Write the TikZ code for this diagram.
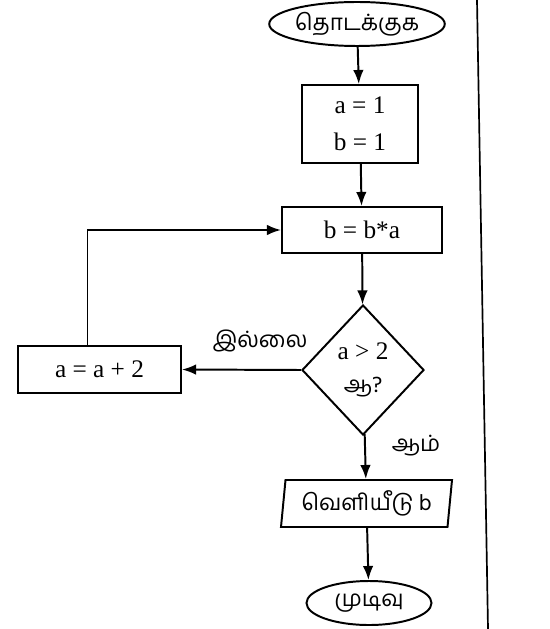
\documentclass[tikz,border=0pt]{standalone}
\usepackage{fontspec}
\newfontfamily\tamilfont[Script=Tamil]{Hind Madurai}
\newfontfamily\boxfont{Liberation Serif}
\usetikzlibrary{arrows.meta}
\usetikzlibrary{shapes.geometric, math}

\tikzset{
 flowline/.style={line width=1.4pt, -{Latex[length=10pt,width=7.5pt]}},
 terminal/.style={ellipse, draw, line width=1.4pt, inner sep=0pt, font=\tamilfont\fontsize{16}{19}\selectfont},
 procbox/.style={rectangle, draw, line width=1.4pt, inner sep=0pt, align=center, font=\boxfont\fontsize{18}{26}\selectfont},
 decision/.style={diamond, draw, line width=1.4pt, inner sep=0pt, align=center, font=\boxfont\fontsize{18}{24}\selectfont},
 iobox/.style={trapezium, trapezium left angle=80, trapezium right angle=100, trapezium stretches body,
   draw, line width=1.4pt, inner sep=0pt, font=\tamilfont\fontsize{16}{19}\selectfont},
 lbl/.style={font=\tamilfont\fontsize{16}{19}\selectfont},
}

\begin{document}
\begin{tikzpicture}[x=0.025cm,y=-0.025cm]

\tikzmath{
\u = 0.025;
}
\useasboundingbox (0,0) rectangle (549,629);

%nodes
\node[terminal, minimum width=125*\u cm, minimum height=44*\u cm] (start) at (357,24) {தொடக்குக};
\node[procbox, minimum width=116*\u cm, minimum height=78*\u cm] (init) at (360,124) {a = 1\\b = 1};
\node[procbox, minimum width=160*\u cm, minimum height=46*\u cm] (calc) at (362,230) {b = b*a};
\node[decision, minimum width=122*\u cm, minimum height=130*\u cm] (test) at (363,370) {a > 2\\{\tamilfont\fontsize{16}{19}\selectfont ஆ?}};
\node[procbox, minimum width=163*\u cm, minimum height=47*\u cm] (inc) at (99.5,369.5) {a = a + 2};
\node[iobox, minimum width=171*\u cm, minimum height=47*\u cm] (out) at (366.5,503.5) {வெளியீடு b};
\node[terminal, minimum width=125*\u cm, minimum height=44*\u cm] (stop) at (369,603) {முடிவு};

%labels
\node[lbl] (nolbl) at (260,341) {இல்லை};
\node[lbl] (yeslbl) at (416,446) {ஆம்};

%arrows
\draw[flowline] (start) -- (init);
\draw[flowline] (init) -- (calc);
\draw[flowline] (calc) -- (test);
\draw[flowline] (test.west) -- (inc.east);
\draw[flowline] ([xshift=-12*\u cm]inc.north) |- (calc.west);
\draw[flowline] (test) -- (out);
\draw[flowline] (out) -- (stop);

%page rule
\draw[line width=1.2pt] (477,0) -- (488,629);

\end{tikzpicture}
\end{document}
